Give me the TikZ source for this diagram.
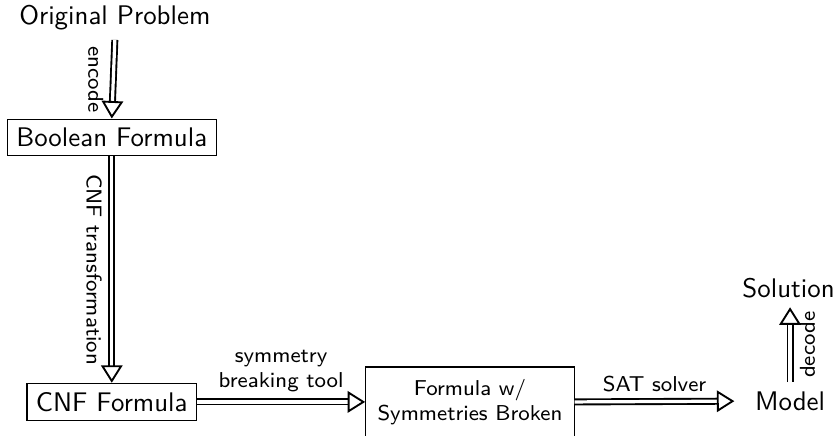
\documentclass[tikz,border=0pt]{standalone}
\usepackage{amsmath}
\usepackage{tikz}
\usetikzlibrary{arrows.meta}

\begin{document}
\begin{tikzpicture}[font=\sffamily,
        dblarrow/.style={double, line width=0.7pt, double distance=1.2pt, -{Triangle[open,length=6.5pt,width=8pt]}},
        box/.style={draw},
        lbl/.style={font=\sffamily\footnotesize}]
        \useasboundingbox (0,0) rectangle (10.92,-5.695);
        \node (orig) at (1.50,-0.235){Original Problem};
        \node[box] (bool) at (1.46,-1.796){Boolean Formula};
        \node[box] (cnf) at (1.46,-5.25){CNF Formula};
        \node[box, lbl, align=center, inner sep=4.4pt] (broken) at (6.138,-5.25){Formula w/\\Symmetries Broken};
        \node[inner xsep=7.5pt] (model) at (10.32,-5.24){Model};
        \node (solution) at (10.30,-3.76){Solution};
        \draw[dblarrow](orig.south)--(bool.north) node[lbl, midway, below, rotate=-90]{encode};
        \draw[dblarrow](bool.south)--(cnf.north) node[lbl, midway, below, rotate=-90]{CNF transformation};
        \draw[dblarrow](cnf.east)--(broken.west) node[lbl, midway, above, align=center]{symmetry\\breaking tool};
        \draw[dblarrow](broken.east)--(model.west) node[lbl, midway, above]{SAT solver};
        \draw[dblarrow](model.north)--(model.north |- solution.south) node[lbl, midway, below, rotate=90]{decode};
    \end{tikzpicture}
\end{document}
